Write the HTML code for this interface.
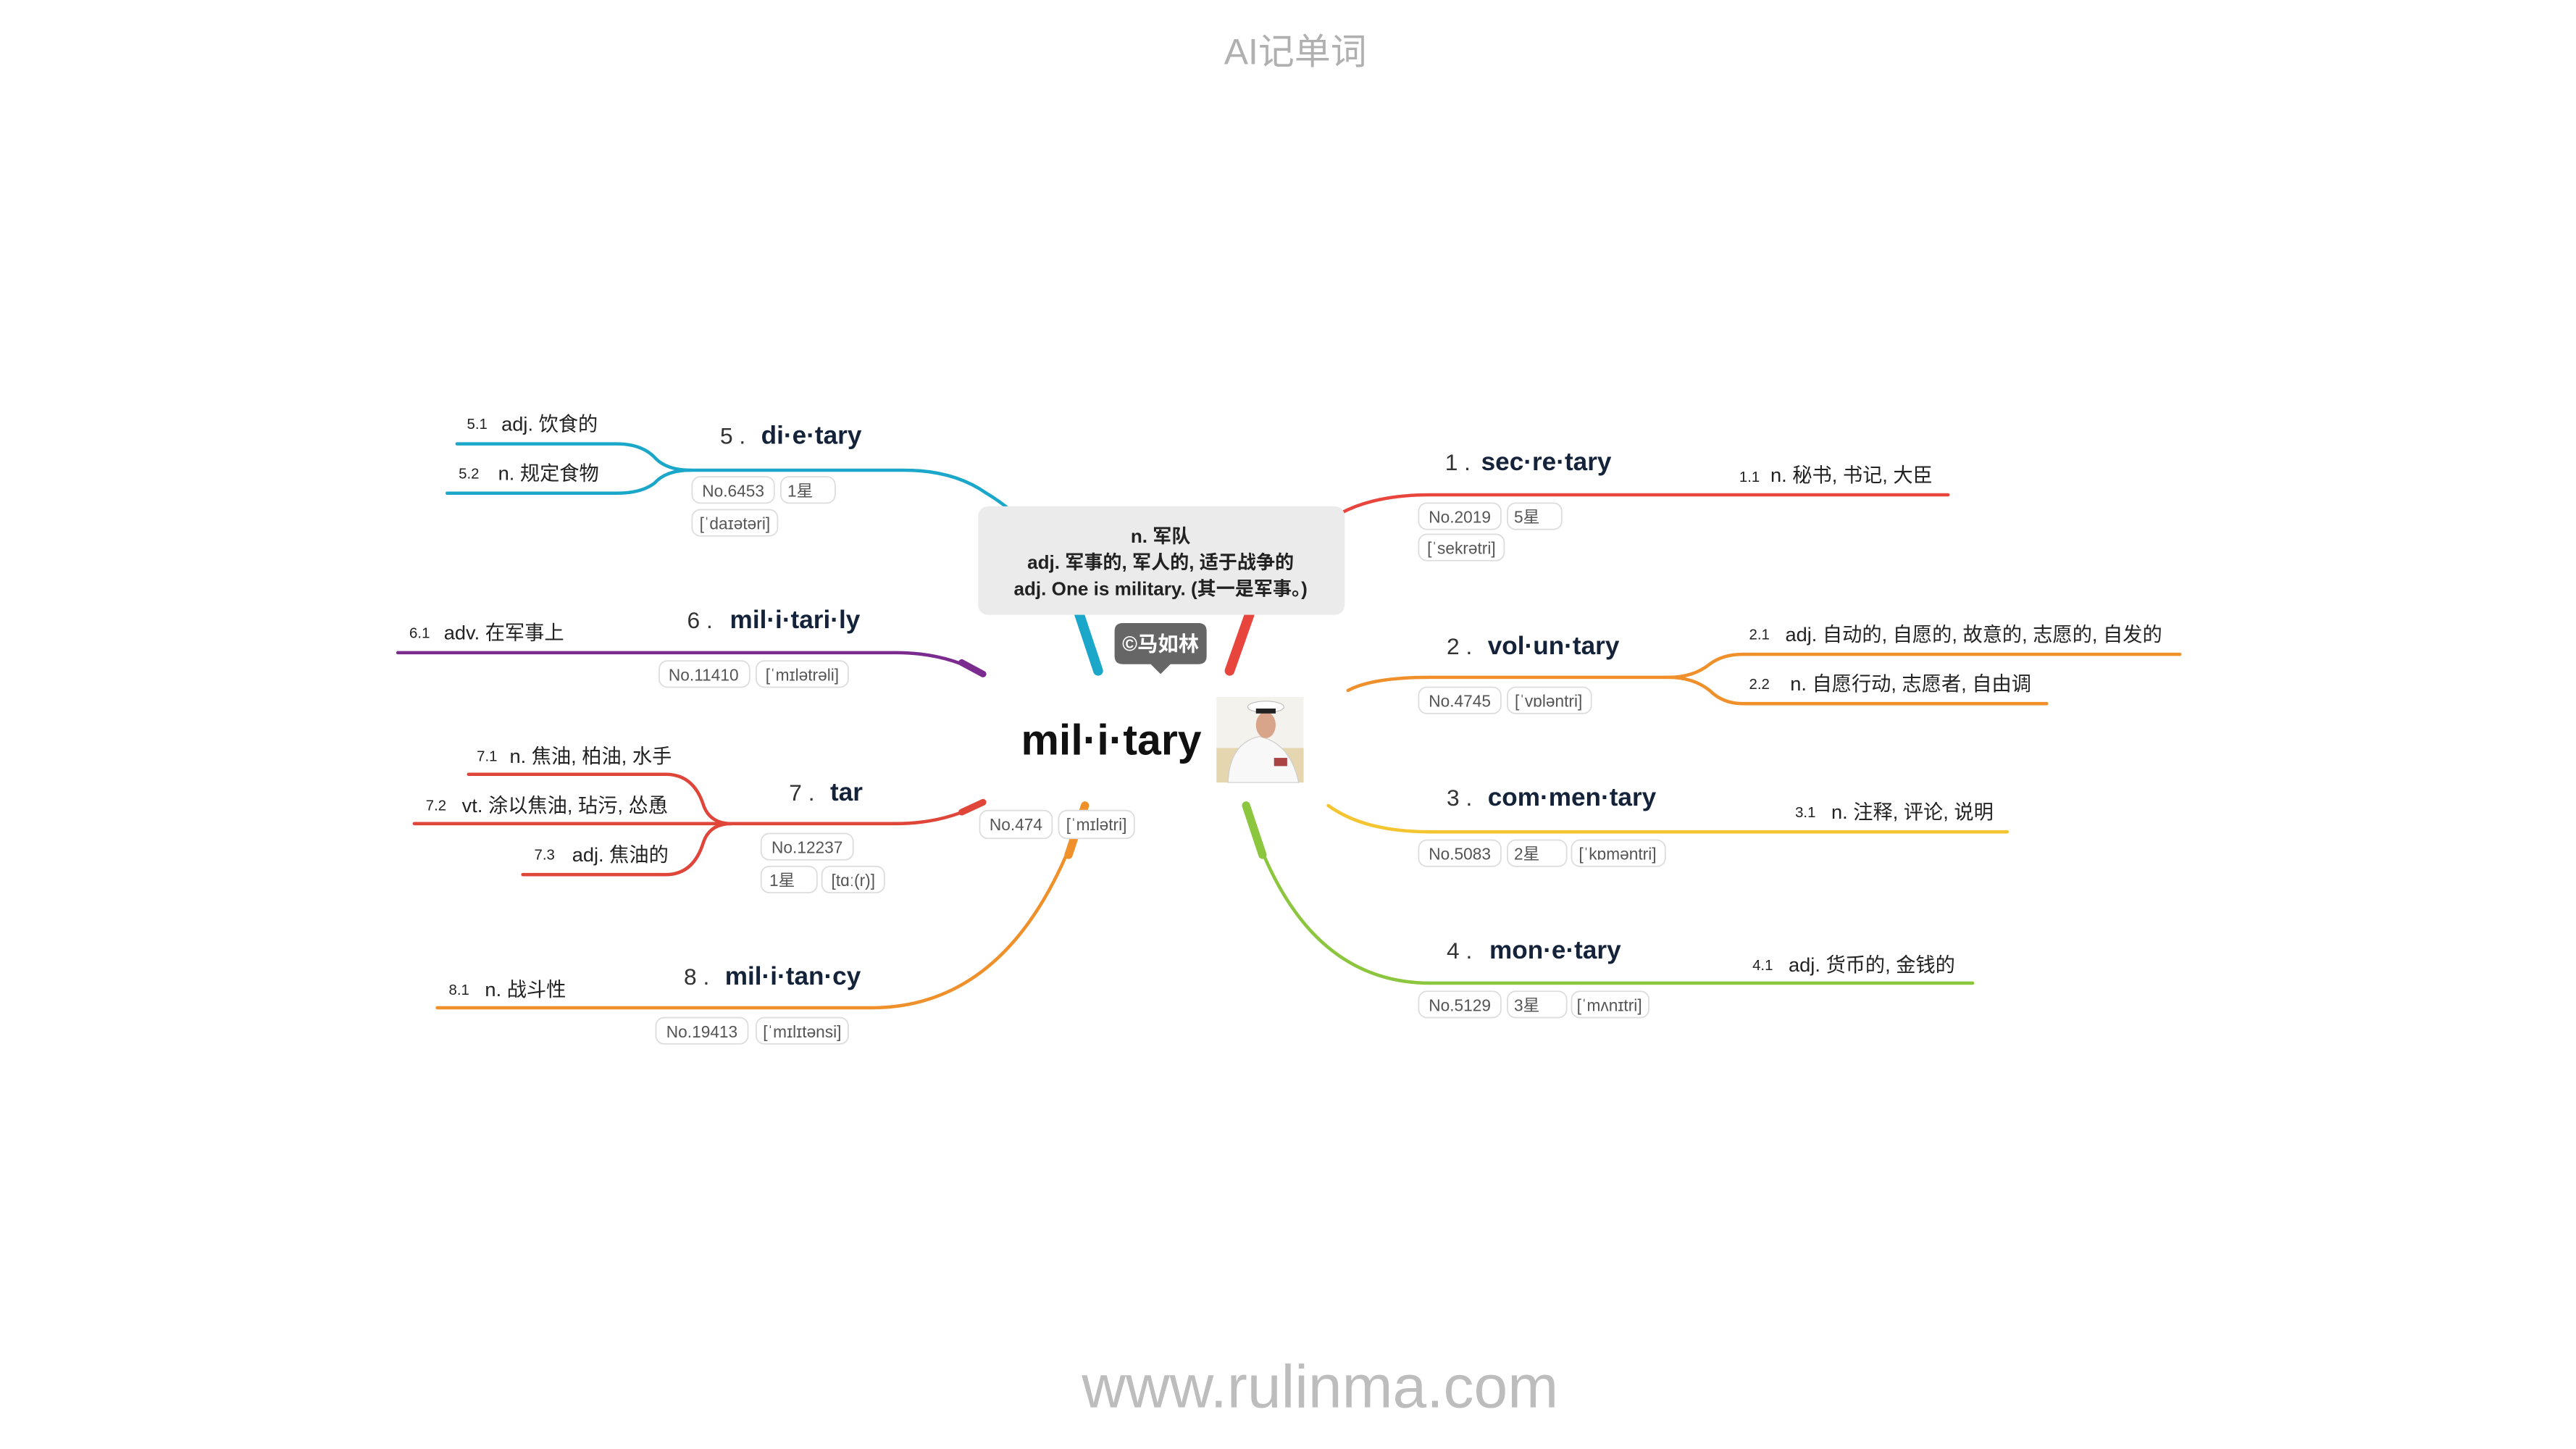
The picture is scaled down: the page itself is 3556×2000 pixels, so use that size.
<!DOCTYPE html>
<html><head><meta charset="utf-8"><style>
html,body{margin:0;padding:0;background:#fff;width:3556px;height:2000px;overflow:hidden}
svg{display:block}
text{font-family:"Liberation Sans","Noto Sans CJK SC",sans-serif}
.w{font-weight:bold;font-size:15.5px;fill:#15233a}
.n{font-size:14px;fill:#333}
.s{font-size:12px;fill:#222}
.sn{font-size:9px;fill:#222}
.c{font-size:10px;fill:#555}
.ch{fill:#fff;stroke:#ddd;stroke-width:0.8}
</style></head><body>
<svg width="3556" height="2000" viewBox="0 0 1567 881.4" preserveAspectRatio="none" xmlns="http://www.w3.org/2000/svg">
<text x="788" y="39" text-anchor="middle" font-size="22" fill="#b0b0b0">AI记单词</text>
<text x="803" y="856" text-anchor="middle" font-size="37" fill="#bdbdbd">www.rulinma.com</text>

<g fill="none" stroke-linecap="round">
<path d="M748,408 Q775,330 820,310 Q840,301 870,301 L1185,301" stroke="#e8453c" stroke-width="2"/>
<path d="M748,408 L760,374" stroke="#e8453c" stroke-width="6"/>
<path d="M820,420 Q835,412 870,412 L1015,412 Q1030,412 1040,404 Q1048,398 1060,398 L1326,398" stroke="#f0902a" stroke-width="2"/>
<path d="M1015,412 Q1030,412 1040,420 Q1048,428 1060,428 L1245,428" stroke="#f0902a" stroke-width="2"/>
<path d="M808,490 Q830,506 870,506 L1221,506" stroke="#f5c431" stroke-width="2"/>
<path d="M758,490 Q790,598 870,598 L1200,598" stroke="#8cc63f" stroke-width="2"/>
<path d="M758,490 L768,520" stroke="#8cc63f" stroke-width="5"/>
<path d="M668,408 Q650,330 600,300 Q580,286 550,286 L420,286 Q405,286 398,278 Q390,270 375,270 L278,270" stroke="#1aa7c9" stroke-width="2"/>
<path d="M420,286 Q405,286 398,294 Q390,300 375,300 L272,300" stroke="#1aa7c9" stroke-width="2"/>
<path d="M668,408 L656,372" stroke="#1aa7c9" stroke-width="6"/>
<path d="M598,410 Q575,397 545,397 L242,397" stroke="#7b2a8e" stroke-width="2"/>
<path d="M598,410 L585,403" stroke="#7b2a8e" stroke-width="4"/>
<path d="M598,488 Q575,501 545,501 L252,501" stroke="#e0453a" stroke-width="2"/>
<path d="M598,488 L585,494" stroke="#e0453a" stroke-width="4"/>
<path d="M445,501 Q432,501 428,490 Q422,471 405,471 L285,471" stroke="#e0453a" stroke-width="2"/>
<path d="M445,501 Q432,501 428,512 Q422,532 405,532 L318,532" stroke="#e0453a" stroke-width="2"/>
<path d="M660,490 Q620,613 530,613 L266,613" stroke="#f0902a" stroke-width="2"/>
<path d="M660,490 L650,520" stroke="#f0902a" stroke-width="5"/>
</g>

<g>
<rect x="595" y="308" width="223" height="66" rx="6" fill="#ebebeb"/>
<text x="706" y="330" text-anchor="middle" font-size="11.5" font-weight="bold" fill="#222">n. 军队</text>
<text x="706" y="346" text-anchor="middle" font-size="11.5" font-weight="bold" fill="#222">adj. 军事的, 军人的, 适于战争的</text>
<text x="706" y="362" text-anchor="middle" font-size="11.5" font-weight="bold" fill="#222">adj. One is military. (其一是军事。)</text>
<path d="M683,379 H729 Q734,379 734,384 V399 Q734,404 729,404 H712 L706,410 L700,404 H683 Q678,404 678,399 V384 Q678,379 683,379Z" fill="#666"/>
<text x="706" y="396" text-anchor="middle" font-size="12.5" font-weight="bold" fill="#fff">©马如林</text>
<text x="676" y="459" text-anchor="middle" font-size="26" font-weight="bold" fill="#111">mil·i·tary</text>
<g>
<rect x="740" y="424" width="53" height="52" fill="#f4f2ec"/>
<rect x="740" y="455" width="53" height="21" fill="#e6d6b0"/>
<path d="M747,476 Q748,452 766,448 Q785,452 790,476Z" fill="#f8f8f8" stroke="#ccc" stroke-width="0.5"/>
<ellipse cx="770" cy="441" rx="6" ry="8" fill="#d9a58a"/>
<ellipse cx="770" cy="430" rx="11" ry="3.5" fill="#fff" stroke="#bbb" stroke-width="0.5"/>
<rect x="764" y="431" width="12" height="3" fill="#222"/>
<rect x="775" y="461" width="8" height="5" fill="#a44"/>
</g>
</g>

<g>
<rect class="ch" x="596" y="493" width="44" height="17" rx="5"/><text class="c" x="618" y="505" text-anchor="middle">No.474</text>
<rect class="ch" x="644" y="493" width="46" height="17" rx="5"/><text class="c" x="667" y="505" text-anchor="middle">[ˈmɪlətri]</text>
</g>

<g>
<text class="n" x="879" y="286">1 .</text><text class="w" x="901" y="286">sec·re·tary</text>
<text class="sn" x="1058" y="293">1.1</text><text class="s" x="1077" y="293">n. 秘书, 书记, 大臣</text>
<rect class="ch" x="863" y="306" width="50" height="16" rx="5"/><text class="c" x="888" y="318" text-anchor="middle">No.2019</text>
<rect class="ch" x="917" y="306" width="33" height="16" rx="5"/><text class="c" x="921" y="318">5星</text>
<rect class="ch" x="863" y="325" width="52" height="16" rx="5"/><text class="c" x="889" y="337" text-anchor="middle">[ˈsekrətri]</text>
</g>
<g>
<text class="n" x="880" y="398">2 .</text><text class="w" x="905" y="398">vol·un·tary</text>
<text class="sn" x="1064" y="389">2.1</text><text class="s" x="1086" y="390">adj. 自动的, 自愿的, 故意的, 志愿的, 自发的</text>
<text class="sn" x="1064" y="419">2.2</text><text class="s" x="1089" y="420">n. 自愿行动, 志愿者, 自由调</text>
<rect class="ch" x="863" y="418" width="50" height="16" rx="5"/><text class="c" x="888" y="430" text-anchor="middle">No.4745</text>
<rect class="ch" x="917" y="418" width="51" height="16" rx="5"/><text class="c" x="942" y="430" text-anchor="middle">[ˈvɒləntri]</text>
</g>
<g>
<text class="n" x="880" y="490">3 .</text><text class="w" x="905" y="490">com·men·tary</text>
<text class="sn" x="1092" y="497">3.1</text><text class="s" x="1114" y="498">n. 注释, 评论, 说明</text>
<rect class="ch" x="863" y="511" width="50" height="16" rx="5"/><text class="c" x="888" y="523" text-anchor="middle">No.5083</text>
<rect class="ch" x="917" y="511" width="36" height="16" rx="5"/><text class="c" x="921" y="523">2星</text>
<rect class="ch" x="956" y="511" width="57" height="16" rx="5"/><text class="c" x="984" y="523" text-anchor="middle">[ˈkɒməntri]</text>
</g>
<g>
<text class="n" x="880" y="583">4 .</text><text class="w" x="906" y="583">mon·e·tary</text>
<text class="sn" x="1066" y="590">4.1</text><text class="s" x="1088" y="591">adj. 货币的, 金钱的</text>
<rect class="ch" x="863" y="603" width="50" height="16" rx="5"/><text class="c" x="888" y="615" text-anchor="middle">No.5129</text>
<rect class="ch" x="917" y="603" width="36" height="16" rx="5"/><text class="c" x="921" y="615">3星</text>
<rect class="ch" x="956" y="603" width="47" height="16" rx="5"/><text class="c" x="979" y="615" text-anchor="middle">[ˈmʌnɪtri]</text>
</g>
<g>
<text class="n" x="438" y="270">5 .</text><text class="w" x="463" y="270">di·e·tary</text>
<text class="sn" x="284" y="261">5.1</text><text class="s" x="305" y="262">adj. 饮食的</text>
<text class="sn" x="279" y="291">5.2</text><text class="s" x="303" y="292">n. 规定食物</text>
<rect class="ch" x="421" y="290" width="50" height="16" rx="5"/><text class="c" x="446" y="302" text-anchor="middle">No.6453</text>
<rect class="ch" x="475" y="290" width="33" height="16" rx="5"/><text class="c" x="479" y="302">1星</text>
<rect class="ch" x="421" y="310" width="52" height="16" rx="5"/><text class="c" x="447" y="322" text-anchor="middle">[ˈdaɪətəri]</text>
</g>
<g>
<text class="n" x="418" y="382">6 .</text><text class="w" x="444" y="382">mil·i·tari·ly</text>
<text class="sn" x="249" y="388">6.1</text><text class="s" x="270" y="389">adv. 在军事上</text>
<rect class="ch" x="401" y="402" width="55" height="16" rx="5"/><text class="c" x="428" y="414" text-anchor="middle">No.11410</text>
<rect class="ch" x="460" y="402" width="56" height="16" rx="5"/><text class="c" x="488" y="414" text-anchor="middle">[ˈmɪlətrəli]</text>
</g>
<g>
<text class="n" x="480" y="487">7 .</text><text class="w" x="505" y="487">tar</text>
<text class="sn" x="290" y="463">7.1</text><text class="s" x="310" y="464">n. 焦油, 柏油, 水手</text>
<text class="sn" x="259" y="493">7.2</text><text class="s" x="281" y="494">vt. 涂以焦油, 玷污, 怂恿</text>
<text class="sn" x="325" y="523">7.3</text><text class="s" x="348" y="524">adj. 焦油的</text>
<rect class="ch" x="463" y="507" width="56" height="16" rx="5"/><text class="c" x="491" y="519" text-anchor="middle">No.12237</text>
<rect class="ch" x="463" y="527" width="34" height="16" rx="5"/><text class="c" x="468" y="539">1星</text>
<rect class="ch" x="500" y="527" width="38" height="16" rx="5"/><text class="c" x="519" y="539" text-anchor="middle">[tɑː(r)]</text>
</g>
<g>
<text class="n" x="416" y="599">8 .</text><text class="w" x="441" y="599">mil·i·tan·cy</text>
<text class="sn" x="273" y="605">8.1</text><text class="s" x="295" y="606">n. 战斗性</text>
<rect class="ch" x="399" y="619" width="56" height="16" rx="5"/><text class="c" x="427" y="631" text-anchor="middle">No.19413</text>
<rect class="ch" x="460" y="619" width="56" height="16" rx="5"/><text class="c" x="488" y="631" text-anchor="middle">[ˈmɪlɪtənsi]</text>
</g>
</svg>
</body></html>
